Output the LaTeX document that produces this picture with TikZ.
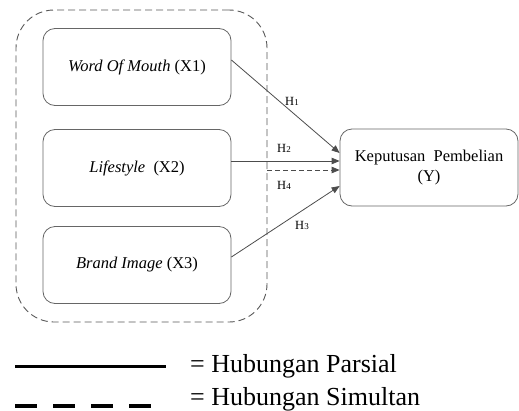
\documentclass[tikz,border=0pt]{standalone}
\usepackage{fontspec}
\setmainfont{Liberation Serif}
\usetikzlibrary{arrows.meta,calc}
\begin{document}
\begin{tikzpicture}[x=1pt,y=-1pt,
  varbox/.style={draw=black!60, line width=0.8pt, rounded corners=12pt,
    minimum width=188pt, minimum height=77pt, inner sep=0pt,
    font=\fontsize{16.5}{20}\selectfont},
  groupbox/.style={draw=black!65, line width=0.9pt, rounded corners=38pt,
    dash pattern=on 7pt off 4pt, minimum width=251pt, minimum height=312pt, inner sep=0pt},
  link/.style={draw=black!70, line width=0.8pt, -{Triangle[length=8pt,width=6.5pt]}},
  simlink/.style={link, dash pattern=on 5pt off 3pt},
  hlabel/.style={font=\fontsize{12.5}{12.5}\selectfont, inner sep=0pt},
  legendtext/.style={font=\fontsize{26}{26}\selectfont, anchor=base west, inner sep=0pt}
]
\useasboundingbox (0,0) rectangle (519,410);

% independent variables inside the dashed group
\node[groupbox] (grp) at (141.5,166) {};
\node[varbox] (x1) at (137,67) {\textit{Word Of Mouth} (X1)};
\node[varbox] (x2) at (137,168) {\textit{Lifestyle}\ \ (X2)};
\node[varbox] (x3) at (137,265) {\textit{Brand Image} (X3)};

% dependent variable
\node[varbox, minimum width=178pt, minimum height=77pt, align=center] (y) at (429,167.5)
  {Keputusan\ \ Pembelian\\(Y)};

% hypotheses paths
\draw[link] ($(x1.east)+(0,-7)$) -- ($(y.west)+(0,-14.5)$);
\draw[link] ($(x2.east)+(0,-7)$) -- ($(y.west)+(0,-6.5)$);
\draw[simlink] ($(grp.east)+(0,4)$) -- ($(y.west)+(0,2.5)$);
\draw[link] ($(x3.east)+(0,-8)$) -- ($(y.west)+(0,18.5)$);

\def\hsub#1{{\fontsize{9}{9}\selectfont #1}}
\node[hlabel] (h1) at (292,101) {H\hsub{1}};
\node[hlabel] (h2) at (284,148) {H\hsub{2}};
\node[hlabel] (h4) at (284,185) {H\hsub{4}};
\node[hlabel] (h3) at (302,225) {H\hsub{3}};

% legend
\coordinate (ls1) at (15,366);
\coordinate (ls2) at (166,366);
\coordinate (ld1) at (15,406);
\coordinate (ld2) at (166,406);
\draw[line width=3pt] (ls1) -- (ls2);
\draw[line width=4pt, dash pattern=on 22pt off 16pt] (ld1) -- (ld2);
\node[legendtext] (lp) at (190,372) {= Hubungan Parsial};
\node[legendtext] (lsim) at (190,405) {= Hubungan Simultan};
\end{tikzpicture}
\end{document}
